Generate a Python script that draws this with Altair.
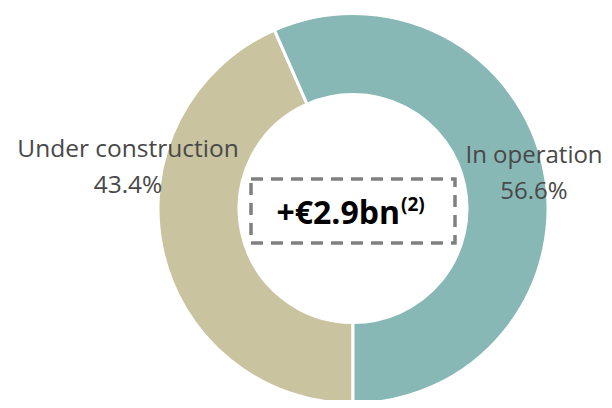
import math
import altair as alt
import pandas as pd

# Data
categories = ["Under construction", "In operation"]
shares = [43.4, 56.6]
order_idx = [0, 1]
colors = ["#C9C3A0", "#88B8B6"]
center_main = "+€2.9bn"
center_sup = "(2)"

df = pd.DataFrame({"category": categories, "share": shares, "idx": order_idx})

CX, CY = 345, 200.5
FONT = "Open Sans"

base = alt.Chart(df)

donut = base.mark_arc(
    innerRadius=114, outerRadius=195, stroke="white", strokeWidth=3, x=CX, y=CY
).encode(
    theta=alt.Theta("share:Q", stack=True,
                    scale=alt.Scale(range=[math.pi, 3 * math.pi])),
    color=alt.Color("category:N", scale=alt.Scale(domain=categories, range=colors),
                    legend=None),
    order=alt.Order("idx:Q"),
)

def label_layer(cat, x, y, size):
    return base.transform_filter(
        alt.datum.category == cat
    ).transform_calculate(
        lbl="datum.category + '\\n' + format(datum.share, '.1f') + '%'"
    ).mark_text(
        font=FONT, fontSize=size, color="#484848", align="center",
        baseline="alphabetic", lineBreak="\n", lineHeight=36, x=x, y=y
    ).encode(text="lbl:N")

lab_uc = label_layer(categories[0], 120, 149, 24.5)
lab_op = label_layer(categories[1], 526, 155, 24)

box = alt.Chart(pd.DataFrame({"t": [center_main]})).mark_rect(
    fill=None, stroke="#808080", strokeWidth=3.5, strokeDash=[12, 8]
).encode(
    x=alt.value(243), x2=alt.value(447), y=alt.value(171), y2=alt.value(235)
)

main_txt = alt.Chart(pd.DataFrame({"t": [center_main]})).mark_text(
    font=FONT, fontSize=32, fontWeight="bold", color="black",
    align="right", baseline="alphabetic", x=392, y=216
).encode(text="t:N")

sup_txt = alt.Chart(pd.DataFrame({"t": [center_sup]})).mark_text(
    font=FONT, fontSize=19, fontWeight="bold", color="black",
    align="left", baseline="alphabetic", x=393, y=203
).encode(text="t:N")

chart = alt.layer(donut, lab_uc, lab_op, box, main_txt, sup_txt).properties(
    width=596, height=392, padding=0,
    autosize=alt.AutoSizeParams(type="none"),
).configure_view(stroke=None)

chart.save("out.html", embed_options={"renderer": "svg", "actions": False})
